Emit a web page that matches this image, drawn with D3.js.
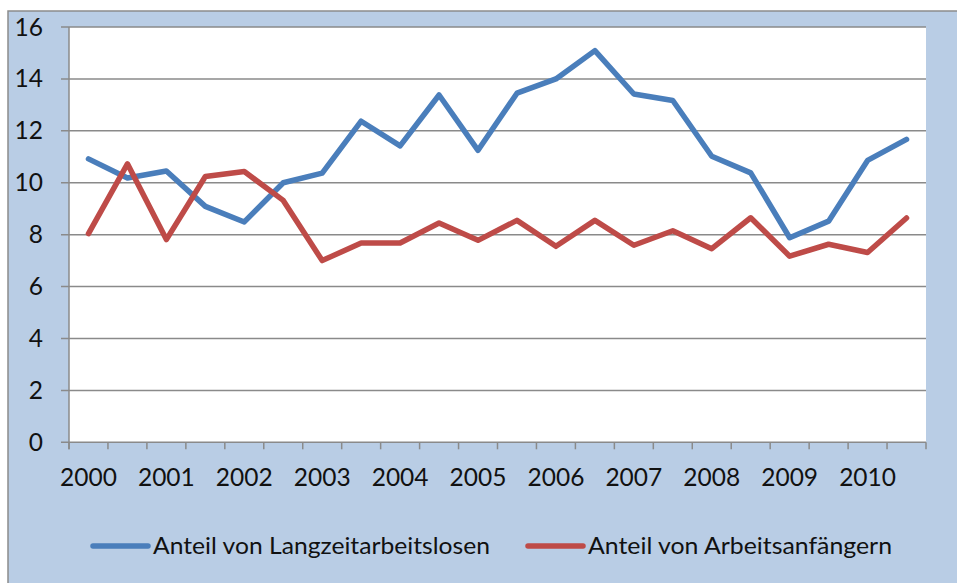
<!DOCTYPE html>
<html lang="de">
<head>
<meta charset="UTF-8" />
<title>Anteil</title>
<style>
  * { margin:0; padding:0; box-sizing:border-box; }
  body { background:#fff; width:957px; height:583px; overflow:hidden; font-family:'Lato','Open Sans',sans-serif; }
  svg { display:block; }
  .grid line { stroke:#8a8a8a; stroke-width:1.5; }
  .tick-label { font-size:24.5px; fill:#111; }
  .legend text { font-size:24px; fill:#111; }
</style>
</head>
<body>
<script src="https://d3js.org/d3.v7.min.js"></script>
<script>
  // half-year periods, 2000 to 2010
  const years = [2000, 2001, 2002, 2003, 2004, 2005, 2006, 2007, 2008, 2009, 2010];
  const halves = ['H1', 'H2'];
  const yTicks = [0, 2, 4, 6, 8, 10, 12, 14, 16];
  const langzeit = [10.92, 10.18, 10.45, 9.09, 8.49, 10.0, 10.37, 12.37, 11.42, 13.38, 11.25,
                    13.45, 14.0, 15.09, 13.42, 13.17, 11.02, 10.38, 7.88, 8.52, 10.86, 11.67];
  const anfaenger = [8.04, 10.73, 7.81, 10.24, 10.43, 9.32, 7.0, 7.68, 7.68, 8.45, 7.78,
                     8.55, 7.55, 8.55, 7.59, 8.15, 7.46, 8.65, 7.17, 7.63, 7.31, 8.64];
  const seriesNames = ['Anteil von Langzeitarbeitslosen', 'Anteil von Arbeitsanfängern'];
  const colors = ['#4a7ebb', '#be4b48'];

  const categories = years.flatMap(y => halves.map(h => `${y} ${h}`));
  const W = 957, H = 583;
  const plot = { left:69, right:926, top:27, bottom:442.3 };

  const svg = d3.select('body').append('svg').attr('width', W).attr('height', H);

  // chart background + outer border
  svg.append('rect').attr('x', 8).attr('y', 11).attr('width', W - 8).attr('height', H - 11)
     .attr('fill', '#b9cde5');
  svg.append('path').attr('d', `M8,${H}V11H${W}`).attr('fill', 'none')
     .attr('stroke', '#8c8c8c').attr('stroke-width', 1.5);
  svg.append('rect').attr('x', plot.left).attr('y', plot.top)
     .attr('width', plot.right - plot.left).attr('height', plot.bottom - plot.top).attr('fill', '#fff');

  const x = d3.scaleBand().domain(categories).range([plot.left, plot.right]);
  const y = d3.scaleLinear().domain([0, 16]).range([plot.bottom, plot.top]);
  const cx = c => x(c) + x.bandwidth() / 2;

  // horizontal gridlines with left tick marks
  const grid = svg.append('g').attr('class', 'grid');
  grid.selectAll('line').data(yTicks).join('line')
      .attr('x1', plot.left - 8).attr('x2', plot.right)
      .attr('y1', d => y(d)).attr('y2', d => y(d));
  grid.append('line').attr('x1', plot.left).attr('x2', plot.left)
      .attr('y1', plot.top).attr('y2', plot.bottom + 7);
  // category tick marks at band edges
  const edges = categories.map(c => x(c)).concat([plot.right]);
  grid.selectAll('line.xt').data(edges).join('line').attr('class', 'xt')
      .attr('x1', d => d).attr('x2', d => d)
      .attr('y1', plot.bottom).attr('y2', plot.bottom + 7);

  svg.append('g').selectAll('text').data(yTicks).join('text')
     .attr('class', 'tick-label')
     .attr('x', 43).attr('y', d => y(d)).attr('dy', '0.35em')
     .attr('text-anchor', 'end').text(d => d);

  svg.append('g').selectAll('text').data(years).join('text')
     .attr('class', 'tick-label')
     .attr('x', d => cx(`${d} H1`)).attr('y', 486)
     .attr('text-anchor', 'middle').text(d => d);

  const line = d3.line().x((d, i) => cx(categories[i])).y(d => y(d));
  [langzeit, anfaenger].forEach((s, k) => {
    svg.append('path').datum(s).attr('d', line)
       .attr('fill', 'none').attr('stroke', colors[k]).attr('stroke-width', 5.5)
       .attr('stroke-linejoin', 'round').attr('stroke-linecap', 'round');
  });

  // legend
  const legendX = [93, 528];
  const legendW = [337, 304];
  const lg = svg.append('g').attr('class', 'legend');
  seriesNames.forEach((name, k) => {
    lg.append('line').attr('x1', legendX[k]).attr('x2', legendX[k] + 55)
      .attr('y1', 546).attr('y2', 546)
      .attr('stroke', colors[k]).attr('stroke-width', 5.5).attr('stroke-linecap', 'round');
    lg.append('text').attr('x', legendX[k] + 60).attr('y', 546).attr('dy', '0.35em')
      .attr('textLength', legendW[k]).attr('lengthAdjust', 'spacingAndGlyphs').text(name);
  });
</script>
</body>
</html>
